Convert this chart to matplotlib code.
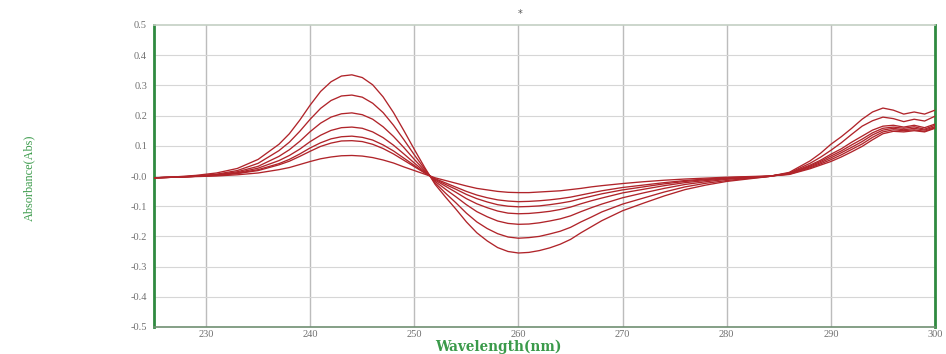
import matplotlib
matplotlib.use("Agg")
import matplotlib.pyplot as plt

wavelength = [225, 227, 229, 231, 233, 235, 237,
              238, 239, 240, 241, 242, 243, 244, 245, 246, 247, 248, 249, 250, 251,
              252, 253, 254, 255, 256, 257, 258, 259, 260, 261, 262, 263, 264, 265, 266, 267, 268,
              270, 272, 274, 276, 278, 280, 282, 284, 286, 288,
              289, 290, 291, 292, 293, 294, 295, 296, 297, 298, 299, 300]

abs_1 = [-0.006, -0.003, 0.002, 0.010, 0.025, 0.055, 0.105,
         0.140, 0.185, 0.235, 0.280, 0.312, 0.331, 0.335, 0.326, 0.302, 0.262, 0.210, 0.150, 0.088, 0.028,
         -0.028, -0.070, -0.110, -0.152, -0.188, -0.215, -0.237, -0.250, -0.255, -0.253, -0.247, -0.238, -0.226, -0.210, -0.188, -0.168, -0.148,
         -0.115, -0.090, -0.066, -0.045, -0.030, -0.018, -0.010, -0.002, 0.012, 0.050,
         0.075, 0.105, 0.130, 0.158, 0.188, 0.212, 0.225, 0.218, 0.205, 0.212, 0.205, 0.218]
abs_2 = [-0.006, -0.004, 0.000, 0.006, 0.018, 0.042, 0.084,
         0.112, 0.148, 0.188, 0.224, 0.250, 0.265, 0.268, 0.261, 0.241, 0.210, 0.168, 0.120, 0.070, 0.023,
         -0.023, -0.057, -0.089, -0.123, -0.152, -0.174, -0.191, -0.202, -0.206, -0.204, -0.200, -0.192, -0.183, -0.170, -0.152, -0.136, -0.119,
         -0.093, -0.073, -0.053, -0.036, -0.024, -0.015, -0.008, -0.002, 0.010, 0.042,
         0.062, 0.085, 0.110, 0.138, 0.165, 0.183, 0.195, 0.190, 0.180, 0.188, 0.182, 0.198]
abs_3 = [-0.006, -0.004, -0.001, 0.004, 0.014, 0.032, 0.065,
         0.087, 0.115, 0.147, 0.175, 0.195, 0.206, 0.209, 0.203, 0.188, 0.163, 0.131, 0.094, 0.055, 0.018,
         -0.018, -0.044, -0.069, -0.095, -0.118, -0.135, -0.149, -0.157, -0.160, -0.159, -0.155, -0.149, -0.142, -0.132, -0.118, -0.105, -0.093,
         -0.072, -0.056, -0.041, -0.028, -0.019, -0.011, -0.006, -0.001, 0.009, 0.036,
         0.052, 0.072, 0.090, 0.112, 0.132, 0.152, 0.165, 0.168, 0.162, 0.168, 0.160, 0.172]
abs_4 = [-0.006, -0.004, -0.001, 0.003, 0.011, 0.026, 0.051,
         0.068, 0.089, 0.114, 0.135, 0.151, 0.160, 0.162, 0.158, 0.146, 0.127, 0.102, 0.073, 0.043, 0.014,
         -0.014, -0.034, -0.054, -0.075, -0.092, -0.105, -0.116, -0.123, -0.125, -0.124, -0.121, -0.117, -0.111, -0.103, -0.092, -0.082, -0.073,
         -0.056, -0.044, -0.032, -0.022, -0.015, -0.009, -0.005, -0.001, 0.008, 0.033,
         0.048, 0.066, 0.083, 0.103, 0.122, 0.143, 0.158, 0.162, 0.158, 0.163, 0.155, 0.168]
abs_5 = [-0.006, -0.004, -0.001, 0.003, 0.009, 0.021, 0.041,
         0.055, 0.073, 0.093, 0.110, 0.123, 0.130, 0.132, 0.128, 0.119, 0.103, 0.083, 0.059, 0.035, 0.011,
         -0.011, -0.028, -0.044, -0.061, -0.075, -0.086, -0.095, -0.100, -0.102, -0.101, -0.099, -0.095, -0.090, -0.084, -0.075, -0.067, -0.059,
         -0.046, -0.036, -0.026, -0.018, -0.012, -0.007, -0.004, -0.001, 0.007, 0.030,
         0.044, 0.060, 0.077, 0.095, 0.114, 0.136, 0.152, 0.158, 0.153, 0.158, 0.152, 0.163]
abs_6 = [-0.006, -0.004, -0.001, 0.002, 0.008, 0.018, 0.037,
         0.049, 0.065, 0.082, 0.098, 0.109, 0.116, 0.117, 0.114, 0.105, 0.091, 0.073, 0.052, 0.031, 0.010,
         -0.009, -0.023, -0.037, -0.051, -0.063, -0.072, -0.079, -0.083, -0.085, -0.084, -0.082, -0.079, -0.075, -0.070, -0.063, -0.056, -0.049,
         -0.038, -0.030, -0.022, -0.015, -0.010, -0.006, -0.003, -0.001, 0.006, 0.027,
         0.040, 0.054, 0.070, 0.088, 0.106, 0.128, 0.146, 0.153, 0.150, 0.153, 0.148, 0.160]
abs_7 = [-0.006, -0.004, -0.002, 0.000, 0.004, 0.010, 0.021,
         0.028, 0.038, 0.048, 0.057, 0.063, 0.067, 0.068, 0.066, 0.061, 0.053, 0.043, 0.030, 0.018, 0.006,
         -0.006, -0.015, -0.024, -0.033, -0.041, -0.046, -0.051, -0.054, -0.055, -0.055, -0.053, -0.051, -0.049, -0.045, -0.041, -0.036, -0.032,
         -0.025, -0.019, -0.014, -0.010, -0.007, -0.004, -0.002, 0.000, 0.005, 0.024,
         0.036, 0.048, 0.063, 0.080, 0.098, 0.120, 0.140, 0.148, 0.146, 0.150, 0.146, 0.158]

series = [abs_1, abs_2, abs_3, abs_4, abs_5, abs_6, abs_7]

x_ticks = [230, 240, 250, 260, 270, 280, 290, 300]
y_ticks = [0.5, 0.4, 0.3, 0.2, 0.1, 0.0, -0.1, -0.2, -0.3, -0.4, -0.5]
y_tick_labels = ["0.5", "0.4", "0.3", "0.2", "0.1", "-0.0", "-0.1", "-0.2", "-0.3", "-0.4", "-0.5"]

fig = plt.figure(figsize=(9.46, 3.54), dpi=100)
ax = fig.add_axes([154/946, 27/354, (935-154)/946, (329-27)/354])

for ys in series:
    ax.plot(wavelength, ys, color="#b0242a", lw=0.95, zorder=3)

ax.set_xlim(225, 300)
ax.set_ylim(-0.5, 0.5)
ax.set_xticks(x_ticks)
ax.set_yticks(y_ticks)
ax.set_yticklabels(y_tick_labels)
ax.tick_params(axis="y", length=0, labelsize=7.5, labelcolor="#707070", pad=5)
ax.tick_params(axis="x", length=0, labelsize=7.5, labelcolor="#707070", pad=2)
for lab in ax.get_xticklabels() + ax.get_yticklabels():
    lab.set_family("Liberation Serif")

for xv in x_ticks[:-1]:
    ax.axvline(xv, color="#bcbcbc", lw=1.0, zorder=1)
for yv in y_ticks[1:-1]:
    ax.axhline(yv, color="#d6d6d6", lw=0.8, zorder=1)

ax.spines["left"].set_color("#2f8a40")
ax.spines["left"].set_linewidth(2.0)
ax.spines["right"].set_color("#2f8a40")
ax.spines["right"].set_linewidth(2.0)
ax.spines["top"].set_color("#c4cfc4")
ax.spines["top"].set_linewidth(1.2)
ax.spines["bottom"].set_color("#6f8f72")
ax.spines["bottom"].set_linewidth(1.2)

fig.text(498/946, 1 - 347/354, "Wavelength(nm)", ha="center", va="center",
         family="DejaVu Serif", fontweight="bold", fontsize=9.8, color="#3a9a4a")
fig.text(29/946, 1 - 178/354, "Absorbance(Abs)", ha="center", va="center", rotation=90,
         family="Liberation Serif", fontsize=8.8, color="#3a9a4a")
fig.text(520/946, 1 - 14/354, "*", ha="center", va="center", fontsize=7, color="#555555")

fig.savefig("out.png", dpi=100)
